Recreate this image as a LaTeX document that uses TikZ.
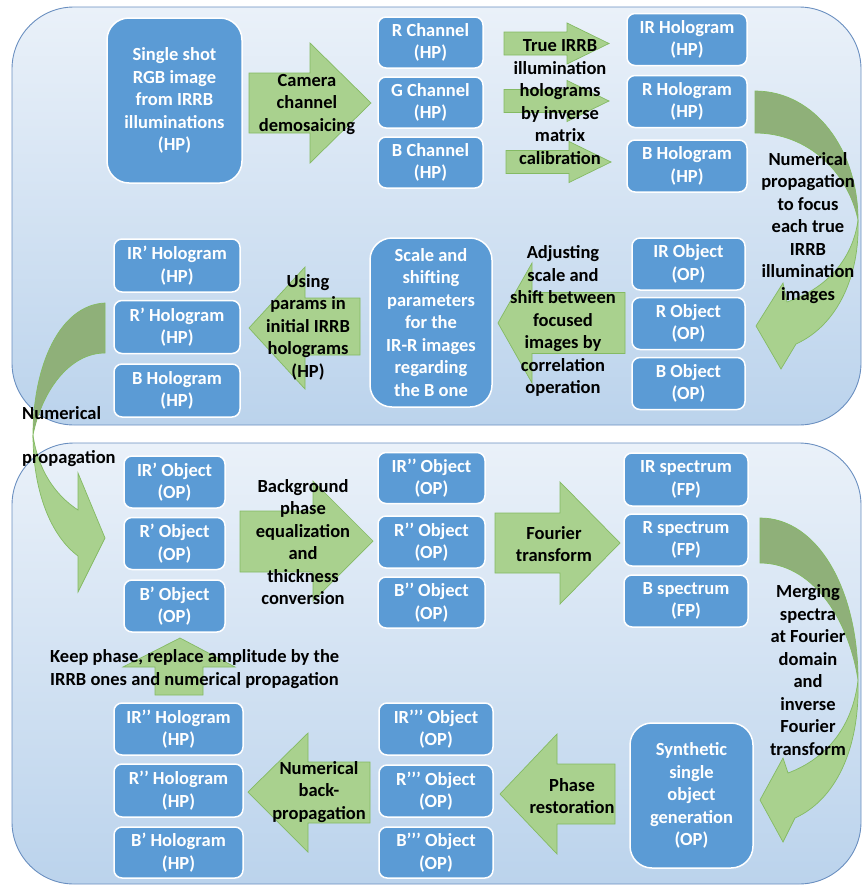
\documentclass[tikz,border=0pt]{standalone}
\usepackage{fontspec}
\setmainfont{Carlito}
\usepackage{tikz}
\definecolor{boxblue}{HTML}{5B9BD5}
\definecolor{arrowgreen}{HTML}{A9D18E}
\definecolor{arrowdark}{HTML}{8FB079}
\definecolor{arrowedge}{HTML}{84BA63}
\definecolor{paneltop}{HTML}{EAF1F9}
\definecolor{panelbot}{HTML}{BBD3EC}
\definecolor{paneledge}{HTML}{6A8FC0}
\newcommand{\flowfont}{\fontsize{18.5}{22.5}\selectfont\bfseries}

\begin{document}
\begin{tikzpicture}[x=1pt,y=-1pt]
        \tikzstyle{every node}+=[inner sep=0pt]
        \tikzstyle{panel}=[draw=paneledge, line width=0.9pt, top color=paneltop, bottom color=panelbot, rounded corners=62pt]
        \tikzstyle{hbox}=[draw=white, line width=1.5pt, fill=boxblue, rounded corners=8pt, text=white, font=\flowfont, align=center, minimum width=120pt, minimum height=52pt, execute at begin node={\rule{0pt}{18.5pt}}]
        \tikzstyle{bigbox}=[hbox, rounded corners=22pt]
        \tikzstyle{lbl}=[font=\flowfont, align=center, text=black, execute at begin node={\rule{0pt}{17pt}}]
        \tikzstyle{garrow}=[fill=arrowgreen, draw=arrowedge, line width=0.7pt]
        \tikzstyle{gback}=[fill=arrowdark, draw=arrowedge, line width=0.7pt]
        \useasboundingbox (0,0) rectangle (862,886);
        % the two panels
        \draw [panel] (12,7) rectangle (861,425);
        \draw [panel] (12,443) rectangle (861,884);
        % top panel, first row
        \node [bigbox, minimum width=135pt, minimum height=165pt] (rgb) at (174.5,100.5) {Single shot\\RGB image\\from IRRB\\illuminations\\(HP)};
        \node [hbox, minimum width=105pt, minimum height=51pt] (rch) at (430.5,42.5) {R Channel\\(HP)};
        \node [hbox, minimum width=105pt, minimum height=51pt] (gch) at (430.5,102.5) {G Channel\\(HP)};
        \node [hbox, minimum width=105pt, minimum height=51pt] (bch) at (430.5,162.5) {B Channel\\(HP)};
        \node [hbox] (irholo) at (687,39.5) {IR Hologram\\(HP)};
        \node [hbox] (rholo) at (687,101.5) {R Hologram\\(HP)};
        \node [hbox] (bholo) at (687,166) {B Hologram\\(HP)};
        % top panel, second row
        \node [hbox, minimum width=113pt] (irobj) at (688.5,264) {IR Object\\(OP)};
        \node [hbox, minimum width=113pt] (robj) at (688.5,323.5) {R Object\\(OP)};
        \node [hbox, minimum width=113pt] (bobj) at (688.5,383.5) {B Object\\(OP)};
        \node [bigbox, minimum width=122pt, minimum height=169pt] (params) at (431,322.5) {Scale and\\shifting\\parameters\\for the\\IR-R images\\regarding\\the B one};
        \node [hbox, minimum width=126pt, minimum height=53pt] (irpholo) at (177,265.5) {IR’ Hologram\\(HP)};
        \node [hbox, minimum width=126pt, minimum height=53pt] (rpholo) at (177,327) {R’ Hologram\\(HP)};
        \node [hbox, minimum width=126pt, minimum height=53pt] (bholob) at (177,390.5) {B Hologram\\(HP)};
        % bottom panel, first row
        \node [hbox, minimum width=101pt] (irpobj) at (174.5,482) {IR’ Object\\(OP)};
        \node [hbox, minimum width=101pt] (rpobj) at (174.5,543.5) {R’ Object\\(OP)};
        \node [hbox, minimum width=101pt] (bpobj) at (174.5,606) {B’ Object\\(OP)};
        \node [hbox, minimum width=107pt, minimum height=51pt] (irppobj) at (431.5,478) {IR’’ Object\\(OP)};
        \node [hbox, minimum width=107pt] (rppobj) at (431.5,542) {R’’ Object\\(OP)};
        \node [hbox, minimum width=107pt, minimum height=51pt] (bppobj) at (431.5,602.5) {B’’ Object\\(OP)};
        \node [hbox, minimum width=124pt, minimum height=53pt] (irspec) at (686,479.5) {IR spectrum\\(FP)};
        \node [hbox, minimum width=124pt] (rspec) at (686,540) {R spectrum\\(FP)};
        \node [hbox, minimum width=124pt] (bspec) at (686,601) {B spectrum\\(FP)};
        % bottom panel, second row
        \node [bigbox, minimum width=123pt, minimum height=145pt] (synth) at (691.5,795.5) {Synthetic\\single\\object\\generation\\(OP)};
        \node [hbox, minimum width=114pt] (irpppobj) at (436,729) {IR’’’ Object\\(OP)};
        \node [hbox, minimum width=114pt] (rpppobj) at (436,791) {R’’’ Object\\(OP)};
        \node [hbox, minimum width=114pt, minimum height=51pt] (bpppobj) at (436,852.5) {B’’’ Object\\(OP)};
        \node [hbox, minimum width=129pt] (irppholo) at (178.5,729) {IR’’ Hologram\\(HP)};
        \node [hbox, minimum width=129pt, minimum height=53pt] (rppholo) at (178.5,790.5) {R’’ Hologram\\(HP)};
        \node [hbox, minimum width=129pt, minimum height=51pt] (bpholo) at (178.5,852.5) {B’ Hologram\\(HP)};
        % straight block arrows
        \draw [garrow] (249,73) -- (310,73) -- (310,43) -- (371,103) -- (310,163) -- (310,133) -- (249,133) -- cycle;
        \draw [garrow] (504,32) -- (567,32) -- (567,23) -- (609,43.5) -- (567,64) -- (567,55) -- (504,55) -- cycle;
        \draw [garrow] (504,89.5) -- (567,89.5) -- (567,80.5) -- (609,101) -- (567,121.5) -- (567,112.5) -- (504,112.5) -- cycle;
        \draw [garrow] (506,150.5) -- (569,150.5) -- (569,141.5) -- (611,162) -- (569,182.5) -- (569,173.5) -- (506,173.5) -- cycle;
        \draw [garrow] (625,292.5) -- (532,292.5) -- (532,263) -- (498,323) -- (532,383) -- (532,353.5) -- (625,353.5) -- cycle;
        \draw [garrow] (360,298) -- (305,298) -- (305,267) -- (249,328) -- (305,389) -- (305,355) -- (360,355) -- cycle;
        \draw [garrow] (240,511) -- (313,511) -- (313,481) -- (373,541) -- (313,601) -- (313,572) -- (240,572) -- cycle;
        \draw [garrow] (495,513) -- (560,513) -- (560,482) -- (620,543) -- (560,604) -- (560,573) -- (495,573) -- cycle;
        \draw [garrow] (615,764) -- (557,764) -- (557,734) -- (500,794) -- (557,854) -- (557,824) -- (615,824) -- cycle;
        \draw [garrow] (370,762) -- (308,762) -- (308,733) -- (248,792) -- (308,852) -- (308,823) -- (370,823) -- cycle;
        \draw [garrow] (155,695) -- (155,667) -- (123,667) -- (180,638) -- (235,667) -- (203,667) -- (203,695) -- cycle;
        % curved arrows
        \draw [gback] (755,91) .. controls (815,91) and (858,150) .. (858,220) .. controls (848,172) and (808,133) .. (755,133) -- cycle;
        \draw [garrow] (858,220) .. controls (860,275) and (838,325) .. (796,344) -- (781,369) -- (756,326) -- (783,283) -- (787,302) .. controls (828,288) and (853,258) .. (858,220) -- cycle;
        \draw [gback] (760,518) .. controls (818,518) and (858,590) .. (858,680) .. controls (848,615) and (810,563) .. (760,563) -- cycle;
        \draw [garrow] (858,680) .. controls (860,750) and (835,800) .. (795,818) -- (783,842) -- (760,800) -- (783,758) -- (788,773) .. controls (828,758) and (853,725) .. (858,680) -- cycle;
        \draw [gback] (105,303) .. controls (60,305) and (33,365) .. (33,435) .. controls (42,390) and (70,353) .. (105,353) -- cycle;
        \draw [garrow] (33,435) .. controls (33,490) and (50,535) .. (78,556) -- (78,592) -- (105,538) -- (78,473) -- (78,510) .. controls (55,495) and (38,470) .. (33,435) -- cycle;
        % arrow labels
        \node [lbl] (demlbl) at (307,104) {Camera\\channel\\demosaicing};
        \node [lbl] (callbl) at (560,102) {True IRRB\\illumination\\holograms\\by inverse\\matrix\\calibration};
        \node [lbl] (foclbl) at (808,228) {Numerical\\propagation\\to focus\\each true\\IRRB\\illumination\\images};
        \node [lbl] (adjlbl) at (563,321) {Adjusting\\scale and\\shift between\\focused\\images by\\correlation\\operation};
        \node [lbl] (uselbl) at (308,327) {Using\\params in\\initial IRRB\\holograms\\(HP)};
        \node [lbl, anchor=base west] (numlbl) at (22,419) {Numerical};
        \node [lbl, anchor=base west] (proplbl) at (22,463) {propagation};
        \node [lbl] (bkglbl) at (303,542) {Background\\phase\\equalization\\and\\thickness\\conversion};
        \node [lbl] (ftlbl) at (554,544) {Fourier\\transform};
        \node [lbl] (mrglbl) at (808,670) {Merging\\spectra\\at Fourier\\domain\\and\\inverse\\Fourier\\transform};
        \node [lbl, align=left, anchor=west] (keeplbl) at (50,669) {Keep phase, replace amplitude by the\\IRRB ones and numerical propagation};
        \node [lbl] (phslbl) at (572,796) {Phase\\restoration};
        \node [lbl] (bplbl) at (319,792) {Numerical\\back-\\propagation};
\end{tikzpicture}
\end{document}
